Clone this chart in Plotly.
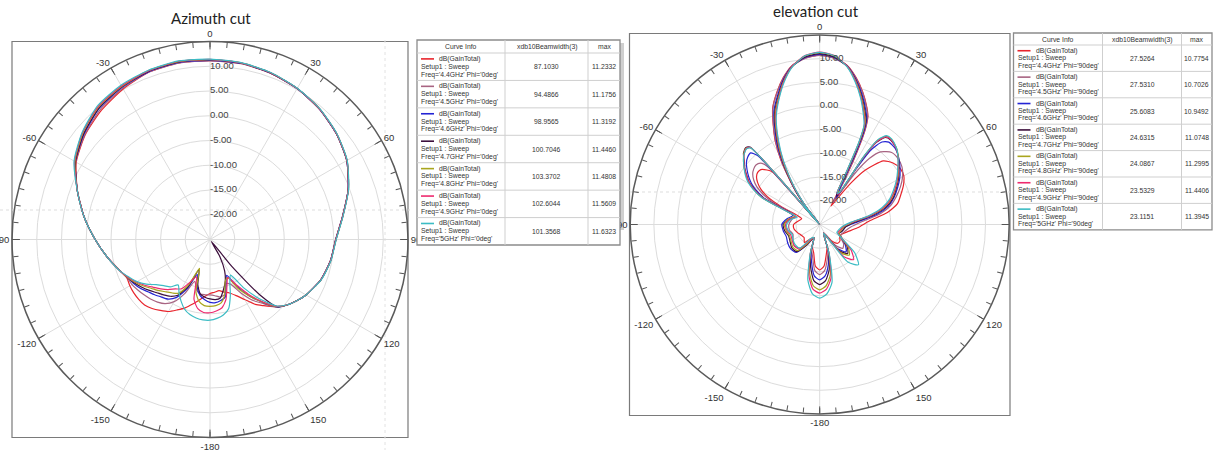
import plotly.graph_objects as go

W, H = 1213, 453

# ---------------- data ----------------
freq_labels = ["4.4GHz", "4.5GHz", "4.6GHz", "4.7GHz", "4.8GHz", "4.9GHz", "5GHz"]
colors = ["#e8242c", "#a86482", "#2424d4", "#3c0f3c", "#a9a51e", "#ee2a6e", "#3cbcc4"]

radial_ticks = [-20, -15, -10, -5, 0, 5, 10]
radial_ticktext = ["-20.00", "-15.00", "-10.00", "-5.00", "0.00", "5.00", "10.00"]
R_MIN, R_MAX = -25, 15

beam_az = ["87.1030", "94.4866", "98.9565", "100.7046", "103.3702", "102.6044", "101.3568"]
max_az = ["11.2332", "11.1756", "11.3192", "11.4460", "11.4808", "11.5609", "11.6323"]
beam_el = ["27.5264", "27.5310", "25.6083", "24.6315", "24.0867", "23.5329", "23.1151"]
max_el = ["10.7754", "10.7026", "10.9492", "11.0748", "11.2995", "11.4406", "11.3945"]

theta_az = [0, 10, 20, 30, 40, 50, 60, 70, 80, 90, 100, 110, 120, 125, 130,
            135, 138, 141, 145, 150, 155, 160, 165, 170, 175,
            180, 185, 190, 195, 200, 205, 210, 215, 220, 225,
            230, 235, 240, 245, 250, 260, 270, 280, 290, 300,
            310, 320, 330, 340, 350, 360]

az_44 = [11.15, 11.1, 10.75, 10.2, 9.4, 8.3, 6.9, 4.7, 2.2, 0.4, -0.3, -1.2, -2.6, -3.5, -4.5,
         -5.8, -6.8, -7.8, -9.0, -11.0, -12.5, -13.5, -14.0, -14.5, -14.3,
         -14.1, -13.5, -12.6, -11.5, -10.3, -9.3, -8.2, -7.5, -6.8, -6.3,
         -6.2, -6.2, -6.3, -6.5, -5.9, -4.0, -1.8, 0.8, 3.5, 6.2,
         7.9, 9.1, 10.1, 11.0, 11.23, 11.15]
az_45 = [11.1, 11.05, 10.75, 10.2, 9.4, 8.3, 6.9, 4.7, 2.2, 0.4, -0.3, -1.2, -2.6, -3.5, -4.5,
         -5.7, -7.0, -8.5, -10.0, -12.5, -15.0, -15.5, -13.5, -13.2, -13.6,
         -13.8, -13.8, -13.8, -14.5, -16.0, -13.0, -10.5, -9.2, -8.5, -8.0,
         -7.6, -7.2, -6.8, -6.6, -5.9, -4.0, -1.8, 0.8, 3.5, 6.3,
         8.0, 9.4, 10.3, 11.0, 11.18, 11.1]
az_46 = [11.2, 11.15, 10.8, 10.2, 9.4, 8.3, 6.9, 4.7, 2.2, 0.4, -0.3, -1.2, -2.6, -3.5, -4.5,
         -5.7, -7.2, -9.0, -11.0, -14.0, -17.0, -15.5, -13.0, -12.5, -12.2,
         -12.3, -12.8, -13.5, -15.0, -17.5, -14.0, -11.5, -10.3, -9.8, -9.2,
         -8.6, -7.8, -7.2, -6.7, -5.9, -4.0, -1.8, 0.8, 3.5, 6.4,
         8.2, 9.7, 10.5, 11.1, 11.32, 11.2]
az_47 = [11.35, 11.2, 10.8, 10.25, 9.45, 8.35, 6.95, 4.75, 2.25, 0.45, -0.25, -1.15, -2.6, -3.5, -4.5,
         -5.8, -10.0, -18.0, -24.5, -21.0, -18.0, -16.0, -14.5, -13.0, -12.8,
         -13.0, -13.3, -13.8, -15.5, -18.5, -14.5, -12.0, -11.0, -10.4, -9.8,
         -9.0, -8.2, -7.4, -6.7, -5.9, -4.0, -1.8, 0.8, 3.5, 6.4,
         8.3, 9.8, 10.6, 11.2, 11.45, 11.35]
az_48 = [11.35, 11.25, 10.85, 10.25, 9.45, 8.35, 6.95, 4.75, 2.25, 0.45, -0.25, -1.15, -2.6, -3.5, -4.5,
         -5.8, -7.3, -9.0, -11.0, -13.5, -16.5, -16.0, -13.5, -12.0, -11.6,
         -11.5, -11.6, -12.3, -14.0, -18.8, -15.0, -12.5, -11.8, -11.2, -10.4,
         -9.6, -8.6, -7.6, -6.7, -5.9, -4.0, -1.8, 0.8, 3.5, 6.5,
         8.5, 10.0, 10.7, 11.3, 11.48, 11.35]
az_49 = [11.4, 11.25, 10.85, 10.25, 9.45, 8.35, 6.95, 4.75, 2.25, 0.45, -0.25, -1.15, -2.6, -3.5, -4.5,
         -5.9, -7.5, -9.2, -11.5, -14.5, -16.5, -15.0, -12.5, -11.0, -10.5,
         -10.2, -10.2, -10.8, -12.5, -17.0, -15.5, -13.5, -12.8, -11.8, -10.9,
         -10.0, -8.9, -7.8, -6.8, -5.9, -4.0, -1.8, 0.8, 3.5, 6.6,
         8.6, 10.1, 10.8, 11.3, 11.56, 11.4]
az_50 = [11.45, 11.3, 10.9, 10.3, 9.5, 8.4, 7.0, 4.8, 2.3, 0.5, -0.2, -1.1, -2.6, -3.5, -4.5,
         -6.0, -8.0, -10.0, -13.0, -16.7, -15.5, -13.0, -10.5, -9.5, -9.0,
         -8.7, -8.7, -8.9, -9.3, -10.0, -11.2, -12.5, -13.8, -12.5, -11.8,
         -10.8, -9.3, -8.0, -7.0, -5.9, -4.0, -1.8, 0.8, 3.5, 6.7,
         8.7, 10.3, 11.0, 11.4, 11.63, 11.45]

theta_el = [0, 5, 10, 14, 18, 22, 24, 25.5, 27, 29,
            31.5, 33, 34.5, 37, 40, 45, 50, 55, 60, 65,
            70, 75, 80, 86, 95, 105, 115, 122, 129, 136,
            143, 150, 156, 162, 168, 174, 180, 186, 192, 198,
            204, 212, 220, 230, 240, 250, 260, 270, 280, 288,
            292, 295, 298, 301, 304, 307, 310, 313, 316, 318,
            320, 322, 324, 326, 329, 332, 335, 338, 342, 346,
            350, 355, 360]

el_44 = [10.75, 10.3, 9.0, 6.9, 4.4, 1.6, 0.0, -2.5, -7.0, -13.5,
         -20.5, -19.5, -18.0, -14.0, -10.0, -6.0, -4.8, -4.3, -4.5, -5.5,
         -6.8, -8.0, -10.5, -14.5, -17.0, -19.0, -20.0, -20.0, -19.5, -19.5,
         -20.5, -22.5, -23.0, -20.0, -18.4, -16.2, -15.4, -16.2, -18.9, -20.0,
         -22.0, -21.5, -20.0, -20.7, -20.5, -20.0, -19.5, -19.5, -20.5, -21.0,
         -20.0, -16.0, -12.5, -10.5, -9.2, -8.3, -7.9, -8.0, -9.0, -10.0,
         -25.0, -20.0, -16.5, -13.8, -9.0, -5.0, -1.8, 1.5, 4.3, 6.9,
         9.0, 10.3, 10.75]
el_45 = [10.7, 10.2, 8.9, 6.8, 4.3, 1.5, -0.1, -2.7, -7.5, -14.0,
         -19.5, -17.0, -12.0, -7.5, -5.0, -3.5, -3.4, -3.8, -4.8, -6.2,
         -7.8, -9.5, -12.0, -16.0, -18.5, -19.5, -20.0, -19.8, -18.5, -18.0,
         -19.5, -22.5, -23.0, -19.5, -17.4, -15.2, -14.4, -15.2, -17.9, -19.5,
         -22.0, -20.5, -18.5, -18.0, -18.5, -19.0, -18.5, -18.5, -19.0, -19.5,
         -19.0, -14.5, -11.5, -9.5, -8.2, -7.3, -6.8, -6.6, -7.0, -8.5,
         -25.0, -20.0, -16.7, -14.0, -9.3, -5.2, -1.9, 1.4, 4.2, 6.8,
         8.9, 10.2, 10.7]
el_46 = [10.9, 10.4, 8.9, 6.6, 3.9, 1.0, -0.6, -3.5, -9.0, -16.0,
         -18.5, -12.0, -6.0, -3.2, -2.3, -2.4, -3.2, -4.3, -5.5, -6.9,
         -8.3, -10.0, -12.8, -17.0, -19.5, -20.0, -20.5, -19.5, -18.0, -17.0,
         -18.5, -22.0, -23.0, -19.2, -16.3, -14.1, -13.3, -14.1, -16.8, -19.2,
         -22.0, -20.0, -17.3, -17.0, -17.2, -17.5, -17.2, -17.0, -18.0, -19.0,
         -18.0, -12.5, -10.0, -8.2, -6.9, -5.8, -4.8, -4.2, -4.0, -5.5,
         -25.0, -20.5, -17.0, -14.3, -10.0, -5.9, -2.6, 0.8, 3.7, 6.6,
         8.9, 10.4, 10.9]
el_47 = [11.05, 10.5, 8.8, 6.4, 3.6, 0.6, -1.0, -4.5, -11.0, -17.5,
         -18.0, -9.0, -4.0, -2.0, -1.7, -2.2, -3.3, -4.6, -5.8, -7.2,
         -8.5, -10.4, -13.5, -17.5, -19.5, -20.0, -20.5, -19.5, -17.5, -16.5,
         -18.0, -22.0, -23.0, -19.0, -15.3, -13.1, -12.3, -13.1, -15.8, -19.0,
         -22.0, -20.0, -17.5, -17.3, -17.8, -18.0, -17.5, -17.3, -18.5, -19.5,
         -18.0, -12.0, -9.5, -7.6, -6.4, -5.2, -4.2, -3.0, -2.5, -3.0,
         -25.0, -20.5, -17.2, -14.5, -10.3, -6.4, -3.0, 0.4, 3.4, 6.4,
         8.8, 10.5, 11.05]
el_48 = [11.3, 10.7, 8.8, 6.3, 3.4, 0.3, -1.4, -5.0, -12.0, -17.0,
         -17.0, -8.0, -3.5, -1.7, -1.5, -2.1, -3.3, -4.7, -6.0, -7.4,
         -8.8, -10.8, -14.0, -18.0, -19.8, -20.3, -20.5, -19.5, -17.2, -16.0,
         -17.5, -22.0, -23.0, -18.8, -14.2, -12.0, -11.2, -12.0, -14.7, -18.8,
         -22.0, -20.5, -17.8, -17.6, -18.0, -18.2, -17.8, -17.5, -18.3, -19.5,
         -17.5, -11.5, -9.2, -7.4, -6.2, -5.0, -4.0, -3.1, -2.6, -3.2,
         -25.0, -20.5, -17.5, -14.8, -10.6, -6.7, -3.3, 0.1, 3.2, 6.3,
         8.8, 10.7, 11.3]
el_49 = [11.4, 10.8, 8.8, 6.2, 3.2, 0.0, -1.7, -5.5, -12.5, -17.5,
         -17.5, -8.5, -3.8, -1.8, -1.6, -2.2, -3.4, -4.8, -6.1, -7.5,
         -9.0, -11.0, -14.2, -18.2, -20.0, -20.5, -20.8, -19.5, -16.5, -14.7,
         -16.5, -22.0, -23.0, -18.6, -13.5, -11.3, -10.5, -11.3, -14.0, -18.6,
         -22.0, -21.0, -18.2, -18.0, -18.3, -18.5, -18.0, -17.8, -18.5, -19.8,
         -17.5, -11.8, -9.3, -7.5, -6.3, -5.1, -4.1, -3.2, -2.7, -3.2,
         -25.0, -20.5, -17.8, -15.0, -11.0, -7.1, -3.6, -0.2, 3.0, 6.2,
         8.8, 10.8, 11.4]
el_50 = [11.35, 10.75, 8.7, 6.0, 3.0, -0.3, -2.0, -6.0, -13.0, -17.5,
         -17.0, -7.5, -3.2, -1.5, -1.4, -2.1, -3.4, -4.9, -6.3, -7.8,
         -9.3, -11.4, -14.6, -18.5, -20.2, -20.8, -21.0, -19.5, -15.5, -13.2,
         -15.0, -22.0, -23.0, -18.5, -12.5, -10.3, -9.45, -10.3, -13.0, -18.5,
         -22.0, -21.5, -18.5, -18.3, -18.5, -18.8, -18.2, -18.0, -18.8, -20.0,
         -17.0, -11.5, -9.0, -7.2, -6.0, -5.0, -4.0, -3.2, -2.8, -3.3,
         -25.0, -20.5, -18.0, -15.3, -11.3, -7.5, -3.9, -0.5, 2.8, 6.0,
         8.7, 10.75, 11.35]

az_series = [az_44, az_45, az_46, az_47, az_48, az_49, az_50]
el_series = [el_44, el_45, el_46, el_47, el_48, el_49, el_50]

# ---------------- figure ----------------
FONT = "Liberation Sans, Arial, sans-serif"
fig = go.Figure()


def px(x):
    return x / W


def py(y):
    return 1 - y / H


angle_vals = list(range(0, 360, 5))
angle_text = [(str(a if a <= 150 else a - 360) if a % 30 == 0 else "") for a in angle_vals]
# on the elevation plot the "90" label sits under the table
angle_text_el = [("" if a == 90 else t) for a, t in zip(angle_vals, angle_text)]

spoke_r, spoke_t, major_r, major_t = [], [], [], []
for a in range(0, 360, 30):
    spoke_r += [R_MIN, R_MAX, None]
    spoke_t += [a, a, None]
    major_r += [R_MAX, R_MAX - 1.6, None]
    major_t += [a, a, None]


def add_polar(sub, thetas, series):
    fig.add_trace(go.Scatterpolar(r=spoke_r, theta=spoke_t, mode="lines", subplot=sub,
                                  line=dict(color="#dcdcdc", width=1), hoverinfo="skip", showlegend=False))
    fig.add_trace(go.Scatterpolar(r=major_r, theta=major_t, mode="lines", subplot=sub,
                                  line=dict(color="#555555", width=1), hoverinfo="skip", showlegend=False))
    for vals, col, f in zip(series, colors, freq_labels):
        fig.add_trace(go.Scatterpolar(r=vals, theta=thetas, mode="lines", subplot=sub, name=f,
                                      line=dict(color=col, width=1.2, shape="spline", smoothing=0.6),
                                      hoverinfo="skip", showlegend=False))
    fig.add_trace(go.Scatterpolar(r=radial_ticks, theta=[0] * len(radial_ticks), mode="text", subplot=sub,
                                  text=radial_ticktext, textposition="middle right",
                                  textfont=dict(family=FONT, size=9.5, color="#444444"),
                                  hoverinfo="skip", showlegend=False))


add_polar("polar", theta_az, az_series)
add_polar("polar2", theta_el, el_series)


def polar_layout(x0, x1, y0, y1, ticktext):
    return dict(
        domain=dict(x=[px(x0), px(x1)], y=[py(y1), py(y0)]),
        bgcolor="rgba(0,0,0,0)",
        radialaxis=dict(range=[R_MIN, R_MAX], tickvals=radial_ticks, showticklabels=False,
                        showline=False, ticks="", gridcolor="#dcdcdc", gridwidth=1, angle=90),
        angularaxis=dict(rotation=90, direction="clockwise", tickvals=angle_vals, ticktext=ticktext,
                         ticks="inside", ticklen=5, tickcolor="#555555", linecolor="#5a5a5a",
                         linewidth=1.5, showgrid=False,
                         tickfont=dict(family=FONT, size=9.5, color="#333333")),
    )


shapes = []
annotations = []

# frames around the plots
shapes.append(dict(type="rect", xref="paper", yref="paper", x0=px(12), x1=px(408), y0=py(437.5), y1=py(41.5),
                   line=dict(color="#7a7a7a", width=1.2), layer="below"))
shapes.append(dict(type="rect", xref="paper", yref="paper", x0=px(629.5), x1=px(1010), y0=py(415.5), y1=py(33.5),
                   line=dict(color="#7a7a7a", width=1.2), layer="below"))
# faint window artefacts
shapes.append(dict(type="line", xref="paper", yref="paper", x0=px(0), x1=px(410), y0=py(210), y1=py(210),
                   line=dict(color="#dddddd", width=1, dash="dot"), layer="below"))
shapes.append(dict(type="line", xref="paper", yref="paper", x0=px(385), x1=px(385), y0=py(40), y1=py(450),
                   line=dict(color="#e2e2e2", width=1, dash="dot"), layer="below"))
shapes.append(dict(type="line", xref="paper", yref="paper", x0=px(630), x1=px(1010), y0=py(192), y1=py(192),
                   line=dict(color="#dddddd", width=1, dash="dot"), layer="below"))
shapes.append(dict(type="rect", xref="paper", yref="paper", x0=px(619), x1=px(624), y0=py(230), y1=py(43),
                   fillcolor="#cfcfcf", line=dict(width=0), layer="below"))

# titles
annotations.append(dict(text="Azimuth cut", x=px(211), y=py(18), xref="paper", yref="paper", showarrow=False,
                        xanchor="center", yanchor="middle", font=dict(family="Lato, Open Sans, sans-serif", size=15, color="#222222")))
annotations.append(dict(text="elevation cut", x=px(816), y=py(11), xref="paper", yref="paper", showarrow=False,
                        xanchor="center", yanchor="middle", font=dict(family="Lato, Open Sans, sans-serif", size=15, color="#222222")))


def add_table(col_x, top, head_h, row_h, phi, beams, maxes):
    n = len(freq_labels)
    bottom = top + head_h + n * row_h
    tfont = dict(family=FONT, size=6.8, color="#333333")
    # background
    shapes.append(dict(type="rect", xref="paper", yref="paper", x0=px(col_x[0]), x1=px(col_x[-1]),
                       y0=py(bottom), y1=py(top), fillcolor="white", line=dict(color="#8c8c8c", width=1.3),
                       layer="above"))
    # grid lines
    for cx in col_x[1:-1]:
        shapes.append(dict(type="line", xref="paper", yref="paper", x0=px(cx), x1=px(cx), y0=py(bottom), y1=py(top),
                           line=dict(color="#cfcfcf", width=1), layer="above"))
    for i in range(n):
        yl = top + head_h + i * row_h
        shapes.append(dict(type="line", xref="paper", yref="paper", x0=px(col_x[0]), x1=px(col_x[-1]),
                           y0=py(yl), y1=py(yl), line=dict(color="#cfcfcf", width=1), layer="above"))
    # header
    heads = ["Curve Info", "xdb10Beamwidth(3)", "max"]
    for j, htxt in enumerate(heads):
        annotations.append(dict(text=htxt, x=px((col_x[j] + col_x[j + 1]) / 2), y=py(top + head_h / 2 + 0.5),
                                xref="paper", yref="paper", showarrow=False, xanchor="center", yanchor="middle",
                                font=tfont))
    gap = (row_h - 4) / 3.0
    for i in range(n):
        yc = top + head_h + i * row_h + row_h / 2
        y1, y2, y3 = yc - gap, yc, yc + gap
        shapes.append(dict(type="line", xref="paper", yref="paper", x0=px(col_x[0] + 4), x1=px(col_x[0] + 17),
                           y0=py(y1), y1=py(y1), line=dict(color=colors[i], width=1.6), layer="above"))
        for txt, yy, dx in [("dB(GainTotal)", y1, 21), ("Setup1 : Sweep", y2, 3),
                            ("Freq='%s' Phi='%s'" % (freq_labels[i], phi), y3, 3)]:
            annotations.append(dict(text=txt, x=px(col_x[0] + dx), y=py(yy), xref="paper", yref="paper",
                                    showarrow=False, xanchor="left", yanchor="middle", font=tfont,
                                    borderpad=0))
        annotations.append(dict(text=beams[i], x=px((col_x[1] + col_x[2]) / 2), y=py(yc), xref="paper", yref="paper",
                                showarrow=False, xanchor="center", yanchor="middle", font=tfont))
        annotations.append(dict(text=maxes[i], x=px((col_x[2] + col_x[3]) / 2), y=py(yc), xref="paper", yref="paper",
                                showarrow=False, xanchor="center", yanchor="middle", font=tfont))


add_table([417, 505, 588, 620], 40, 13, 27.43, "0deg", beam_az, max_az)
add_table([1013.5, 1102.5, 1181.5, 1212], 33, 12, 26.4, "90deg", beam_el, max_el)

fig.update_layout(
    width=W, height=H, autosize=False,
    margin=dict(l=0, r=0, t=0, b=0),
    paper_bgcolor="white", plot_bgcolor="white",
    polar=polar_layout(12, 408, 41.5, 437.5, angle_text),
    polar2=polar_layout(630.2, 1009.2, 35, 414, angle_text_el),
    shapes=shapes, annotations=annotations,
    showlegend=False,
)

fig.write_html("out.html", config={"displayModeBar": False},
               post_script="document.body.style.margin='0';document.body.style.overflow='hidden';")
